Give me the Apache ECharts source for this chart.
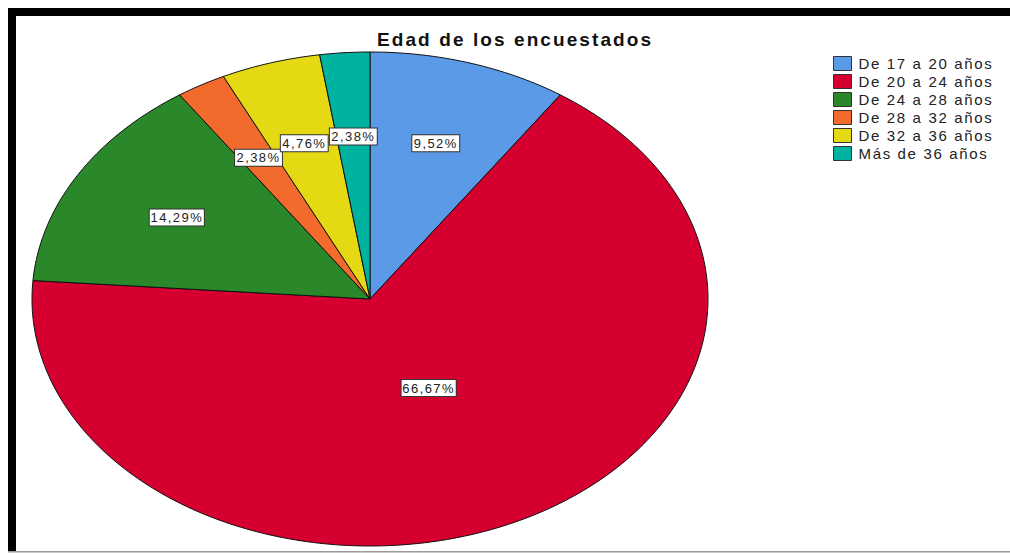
<!DOCTYPE html>
<html>
<head>
<meta charset="utf-8">
<script src="https://cdn.jsdelivr.net/npm/echarts@6/dist/echarts.min.js"></script>
<style>
  html, body { margin: 0; padding: 0; background: #fff; }
  #main { width: 1010px; height: 554px; }
  #main svg text { letter-spacing: 0.11em; }
</style>
</head>
<body>
<div id="main"></div>
<script>
// ---- data ----
const categories = ['De 17 a 20 años', 'De 20 a 24 años', 'De 24 a 28 años', 'De 28 a 32 años', 'De 32 a 36 años', 'Más de 36 años'];
const percents = [9.52, 66.67, 14.29, 2.38, 4.76, 2.38];
const sliceColors = ['#5A9AE6', '#D5002F', '#2A882A', '#F26A2C', '#E4D913', '#00B3A1'];
const titleText = 'Edad de los encuestados';

// ---- layout ----
const CX = 370, CY = 299, RX = 338, RY = 247;
const total = percents.reduce((a, b) => a + b, 0);
const fmt = v => v.toFixed(2).replace('.', ',') + '%';

const chart = echarts.init(document.getElementById('main'), null, { renderer: 'svg' });

chart.setOption({
  backgroundColor: '#fff',
  animation: false,
  title: {
    text: titleText,
    left: 377,
    top: 30,
    padding: 0,
    textStyle: { fontFamily: 'Liberation Sans, Arial, sans-serif', fontWeight: 'bold', fontSize: 19, color: '#111' }
  },
  legend: {
    orient: 'vertical',
    left: 833,
    top: 56,
    padding: 0,
    data: categories,
    icon: 'rect',
    itemWidth: 18,
    itemHeight: 14,
    itemGap: 3,
    itemStyle: { borderColor: '#333', borderWidth: 1 },
    textStyle: { fontFamily: 'Liberation Sans, Arial, sans-serif', fontSize: 15, color: '#222', lineHeight: 14, padding: [0, 0, 0, 2], height: 14 }
  },
  graphic: [
    { type: 'rect', shape: { x: 8, y: 8, width: 1002, height: 8 }, style: { fill: '#000' } },
    { type: 'rect', shape: { x: 8, y: 8, width: 8, height: 544 }, style: { fill: '#000' } },
    { type: 'rect', shape: { x: 8, y: 551, width: 1002, height: 1.5 }, style: { fill: '#9a9a9a' } }
  ],
  series: [
    {
      type: 'custom',
      name: 'Edad',
      coordinateSystem: 'none',
      silent: true,
      data: percents.map((v, i) => ({ name: categories[i], value: v })),
      renderItem: function (params, api) {
        const i = params.dataIndex;
        let before = 0;
        for (let k = 0; k < i; k++) before += percents[k];
        const v = api.value(0);
        const a0 = before / total * Math.PI * 2;
        const a1 = (before + v) / total * Math.PI * 2;
        const pts = [[CX, CY]];
        const steps = Math.max(2, Math.ceil((a1 - a0) / (Math.PI * 2) * 360));
        for (let s = 0; s <= steps; s++) {
          const a = a0 + (a1 - a0) * s / steps;
          pts.push([CX + RX * Math.sin(a), CY - RY * Math.cos(a)]);
        }
        const mid = (a0 + a1) / 2;
        const lr = v / total > 0.5 ? 0.4 : 0.66;
        return {
          type: 'group',
          children: [
            {
              type: 'polygon',
              shape: { points: pts },
              style: { fill: sliceColors[i], stroke: '#111', lineWidth: 1 }
            },
            {
              type: 'text',
              z2: 100,
              x: CX + RX * lr * Math.sin(mid),
              y: CY - RY * lr * Math.cos(mid),
              style: {
                text: fmt(v),
                fill: '#222',
                font: '13px "Liberation Sans", Arial, sans-serif',
                align: 'center',
                verticalAlign: 'middle',
                backgroundColor: '#fff',
                borderColor: '#333',
                borderWidth: 1,
                padding: [2, 5, 1, 5]
              }
            }
          ]
        };
      }
    },
    {
      type: 'pie',
      name: 'leyenda',
      radius: [0, 0],
      center: [CX, CY],
      silent: true,
      label: { show: false },
      labelLine: { show: false },
      data: percents.map((v, i) => ({ name: categories[i], value: v, itemStyle: { color: sliceColors[i] } }))
    }
  ]
});
</script>
</body>
</html>
